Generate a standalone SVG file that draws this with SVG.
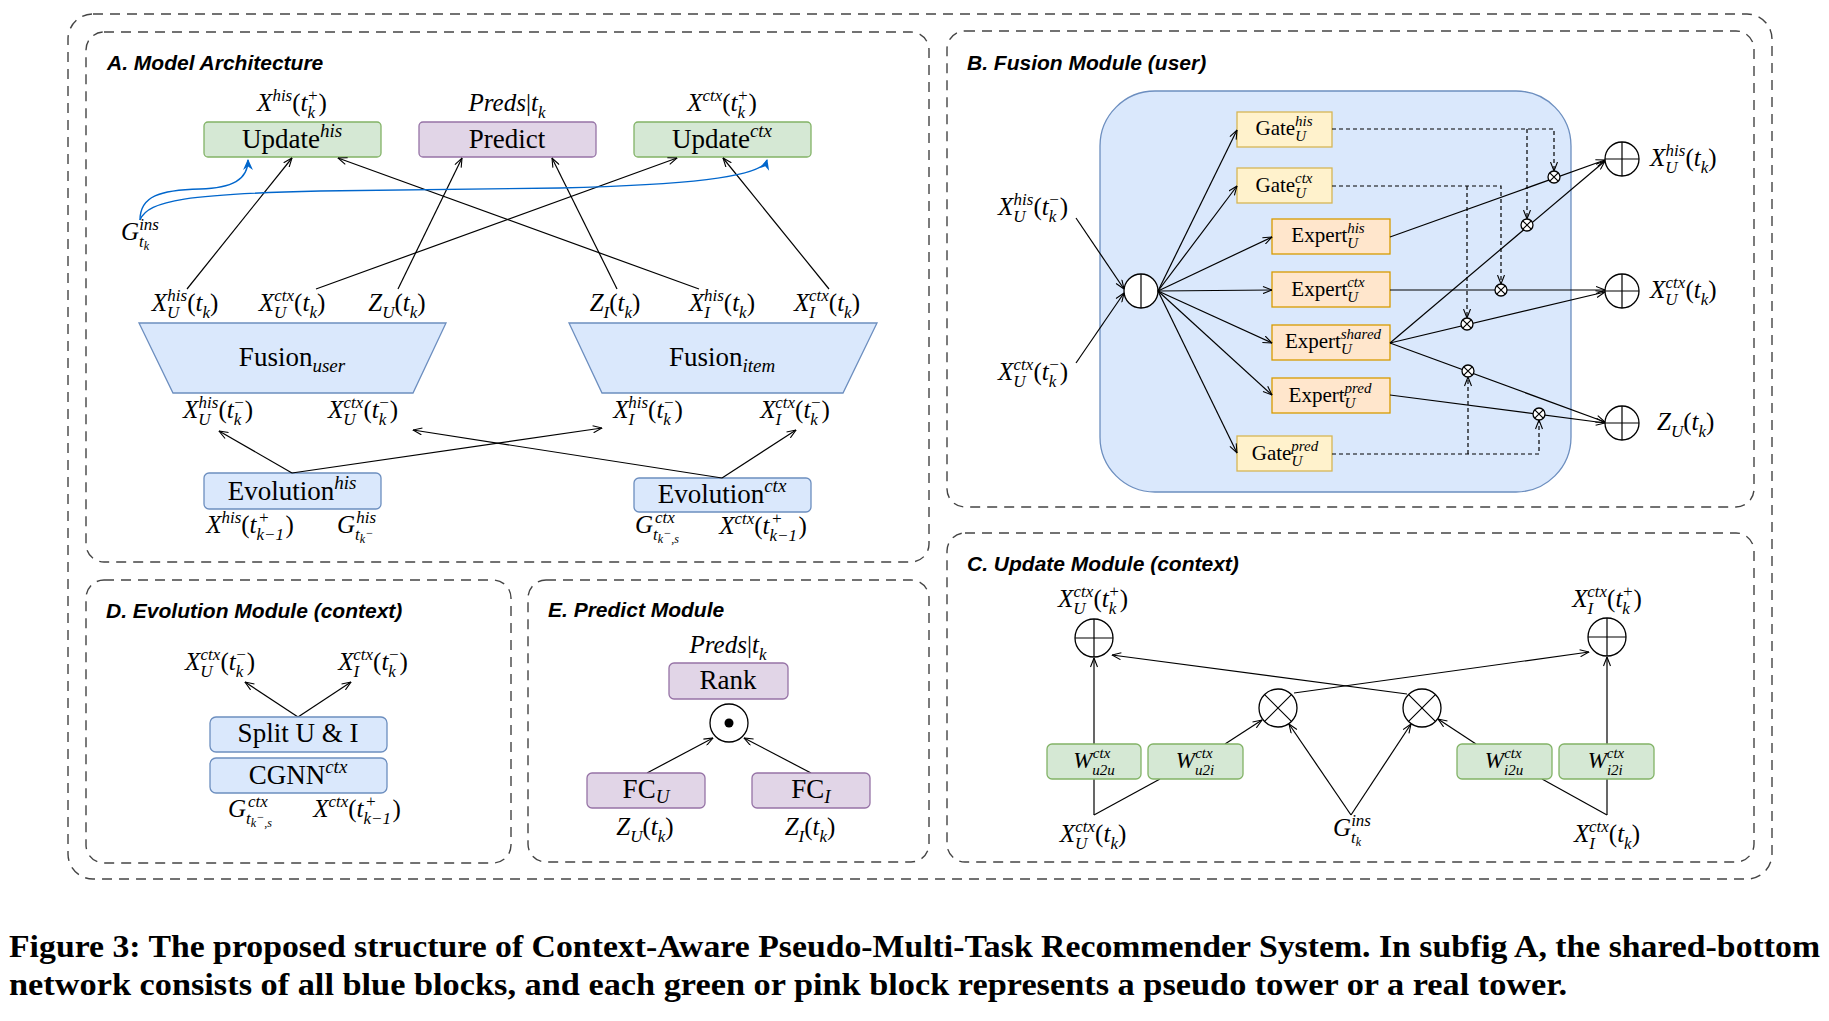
<svg xmlns="http://www.w3.org/2000/svg" width="1829" height="1021" viewBox="0 0 1829 1021">
<style>
.t{font-family:"Liberation Sans",Arial,sans-serif;font-weight:bold;font-style:italic;font-size:21px;fill:#000}
.m{font-family:"Liberation Serif","DejaVu Serif",serif;font-style:italic;font-size:17px;fill:#000}
.L{font-size:25px}
.mb{font-family:"Liberation Serif","DejaVu Serif",serif;font-style:italic;font-size:15px;fill:#000}
.L2{font-size:23px}
.b{font-family:"Liberation Serif","DejaVu Serif",serif;font-style:italic;font-size:19px;fill:#000}
.B{font-size:27px;font-style:normal}
.bs{font-family:"Liberation Serif","DejaVu Serif",serif;font-style:italic;font-size:15px;fill:#000}
.BS{font-size:21px;font-style:normal}
.ss{font-size:12px}
.n{font-style:normal}
.bl{fill:#dae8fc;stroke:#6c8ebf;stroke-width:1.3}
.gr{fill:#d5e8d4;stroke:#82b366;stroke-width:1.3}
.pu{fill:#e1d5e7;stroke:#9673a6;stroke-width:1.3}
.ga{fill:#fff2cc;stroke:#d6b656;stroke-width:1.3}
.ex{fill:#ffe6cc;stroke:#d79b00;stroke-width:1.3}
.pan{fill:none;stroke:#444;stroke-width:1.4;stroke-dasharray:10 7}
.ln{fill:none;stroke:#000;stroke-width:1.2}
.ar{marker-end:url(#ah)}
.dl{stroke-dasharray:4 3}
.bc{fill:none;stroke:#0066cc;stroke-width:1.4;marker-end:url(#ahb)}
.op{fill:#fff;stroke:#000;stroke-width:1.3}
.cap{font-family:"Liberation Serif","DejaVu Serif",serif;font-weight:bold;font-size:32px;fill:#000}
</style>
<defs>
<marker id="ah" viewBox="0 0 10 8" refX="9.5" refY="4" markerWidth="10" markerHeight="8" orient="auto" markerUnits="userSpaceOnUse"><path d="M0.5,0.5 L9.5,4 L0.5,7.5" fill="none" stroke="#000" stroke-width="1.1"/></marker>
<marker id="ahb" viewBox="0 0 10 10" refX="9" refY="5" markerWidth="11" markerHeight="11" orient="auto" markerUnits="userSpaceOnUse"><path d="M0,0.5 L10,5 L0,9.5 L3,5 Z" fill="#0066cc"/></marker>
</defs>
<rect width="1829" height="1021" fill="#fff"/>

<g id="panels">
<rect class="pan" x="68" y="14" width="1704" height="865" rx="25"/>
<rect class="pan" x="86" y="32" width="843" height="530" rx="18"/>
<rect class="pan" x="947" y="31" width="807" height="476" rx="18"/>
<rect class="pan" x="947" y="533" width="807" height="329" rx="18"/>
<rect class="pan" x="86" y="580" width="425" height="283" rx="18"/>
<rect class="pan" x="528" y="580" width="401" height="282" rx="18"/>
<text class="t" x="107" y="70">A. Model Architecture</text>
<text class="t" x="967" y="70">B. Fusion Module (user)</text>
<text class="t" x="967" y="571">C. Update Module (context)</text>
<text class="t" x="106" y="618">D. Evolution Module (context)</text>
<text class="t" x="548" y="617">E. Predict Module</text>
</g>

<!-- Panel A nodes -->
<g id="update-his"><rect class="gr" x="204" y="122" width="177" height="35" rx="4"/><text class="b" x="292" y="148" text-anchor="middle"><tspan class="B">Update</tspan><tspan dy="-11">his</tspan></text></g>
<g id="predict"><rect class="pu" x="419" y="122" width="177" height="35" rx="4"/><text class="b" x="507" y="148" text-anchor="middle"><tspan class="B">Predict</tspan></text></g>
<g id="update-ctx"><rect class="gr" x="634" y="122" width="177" height="35" rx="4"/><text class="b" x="722" y="148" text-anchor="middle"><tspan class="B">Update</tspan><tspan dy="-11">ctx</tspan></text></g>
<g id="lbl-xhis-plus"><text class="m" x="292" y="111" text-anchor="middle"><tspan class="L">X</tspan><tspan dy="-10">his</tspan><tspan class="L n" dy="10">(</tspan><tspan class="L">t</tspan><tspan dy="7">k</tspan><tspan dx="-8" dy="-17">+</tspan><tspan class="L n" dy="10">)</tspan></text></g>
<g id="lbl-preds"><text class="m" x="507" y="111" text-anchor="middle"><tspan class="L">Preds</tspan><tspan class="L n">|</tspan><tspan class="L">t</tspan><tspan dy="7">k</tspan></text></g>
<g id="lbl-xctx-plus"><text class="m" x="722" y="111" text-anchor="middle"><tspan class="L">X</tspan><tspan dy="-10">ctx</tspan><tspan class="L n" dy="10">(</tspan><tspan class="L">t</tspan><tspan dy="7">k</tspan><tspan dx="-8" dy="-17">+</tspan><tspan class="L n" dy="10">)</tspan></text></g>
<g id="lbl-gins-a"><text class="m" x="121" y="240"><tspan class="L">G</tspan><tspan dy="7">t</tspan><tspan class="ss" dy="3">k</tspan><tspan dx="-10" dy="-20">ins</tspan></text></g>

<g id="row-labels">
<text class="m" x="185" y="311" text-anchor="middle"><tspan class="L">X</tspan><tspan dy="7">U</tspan><tspan dx="-12" dy="-17">his</tspan><tspan class="L n" dy="10">(</tspan><tspan class="L">t</tspan><tspan dy="7">k</tspan><tspan class="L n" dy="-7">)</tspan></text>
<text class="m" x="292" y="311" text-anchor="middle"><tspan class="L">X</tspan><tspan dy="7">U</tspan><tspan dx="-12" dy="-17">ctx</tspan><tspan class="L n" dy="10">(</tspan><tspan class="L">t</tspan><tspan dy="7">k</tspan><tspan class="L n" dy="-7">)</tspan></text>
<text class="m" x="397" y="311" text-anchor="middle"><tspan class="L">Z</tspan><tspan dy="7">U</tspan><tspan class="L n" dy="-7">(</tspan><tspan class="L">t</tspan><tspan dy="7">k</tspan><tspan class="L n" dy="-7">)</tspan></text>
<text class="m" x="615" y="311" text-anchor="middle"><tspan class="L">Z</tspan><tspan dy="7">I</tspan><tspan class="L n" dy="-7">(</tspan><tspan class="L">t</tspan><tspan dy="7">k</tspan><tspan class="L n" dy="-7">)</tspan></text>
<text class="m" x="722" y="311" text-anchor="middle"><tspan class="L">X</tspan><tspan dy="7">I</tspan><tspan dx="-6" dy="-17">his</tspan><tspan class="L n" dy="10">(</tspan><tspan class="L">t</tspan><tspan dy="7">k</tspan><tspan class="L n" dy="-7">)</tspan></text>
<text class="m" x="827" y="311" text-anchor="middle"><tspan class="L">X</tspan><tspan dy="7">I</tspan><tspan dx="-6" dy="-17">ctx</tspan><tspan class="L n" dy="10">(</tspan><tspan class="L">t</tspan><tspan dy="7">k</tspan><tspan class="L n" dy="-7">)</tspan></text>
</g>

<g id="fusion-user"><path class="bl" d="M139,323 L446,323 L413,393 L173,393 Z"/><text class="b" x="292" y="366" text-anchor="middle"><tspan class="B">Fusion</tspan><tspan dy="6">user</tspan></text></g>
<g id="fusion-item"><path class="bl" d="M569,323 L877,323 L843,393 L602,393 Z"/><text class="b" x="722" y="366" text-anchor="middle"><tspan class="B">Fusion</tspan><tspan dy="6">item</tspan></text></g>

<g id="below-labels">
<text class="m" x="218" y="418" text-anchor="middle"><tspan class="L">X</tspan><tspan dy="7">U</tspan><tspan dx="-12" dy="-17">his</tspan><tspan class="L n" dy="10">(</tspan><tspan class="L">t</tspan><tspan dy="7">k</tspan><tspan dx="-8" dy="-17">−</tspan><tspan class="L n" dy="10">)</tspan></text>
<text class="m" x="363" y="418" text-anchor="middle"><tspan class="L">X</tspan><tspan dy="7">U</tspan><tspan dx="-12" dy="-17">ctx</tspan><tspan class="L n" dy="10">(</tspan><tspan class="L">t</tspan><tspan dy="7">k</tspan><tspan dx="-8" dy="-17">−</tspan><tspan class="L n" dy="10">)</tspan></text>
<text class="m" x="648" y="418" text-anchor="middle"><tspan class="L">X</tspan><tspan dy="7">I</tspan><tspan dx="-6" dy="-17">his</tspan><tspan class="L n" dy="10">(</tspan><tspan class="L">t</tspan><tspan dy="7">k</tspan><tspan dx="-8" dy="-17">−</tspan><tspan class="L n" dy="10">)</tspan></text>
<text class="m" x="795" y="418" text-anchor="middle"><tspan class="L">X</tspan><tspan dy="7">I</tspan><tspan dx="-6" dy="-17">ctx</tspan><tspan class="L n" dy="10">(</tspan><tspan class="L">t</tspan><tspan dy="7">k</tspan><tspan dx="-8" dy="-17">−</tspan><tspan class="L n" dy="10">)</tspan></text>
</g>

<g id="evolution-his"><rect class="bl" x="204" y="473" width="177" height="36" rx="5"/><text class="b" x="292" y="500" text-anchor="middle"><tspan class="B">Evolution</tspan><tspan dy="-11">his</tspan></text></g>
<g id="evolution-ctx"><rect class="bl" x="634" y="478" width="177" height="34" rx="5"/><text class="b" x="722" y="503" text-anchor="middle"><tspan class="B">Evolution</tspan><tspan dy="-11">ctx</tspan></text></g>
<g id="evo-labels">
<text class="m" x="250" y="533" text-anchor="middle"><tspan class="L">X</tspan><tspan dy="-10">his</tspan><tspan class="L n" dy="10">(</tspan><tspan class="L">t</tspan><tspan dy="7">k−1</tspan><tspan dx="-26" dy="-17">+</tspan><tspan class="L n" dx="16" dy="10">)</tspan></text>
<text class="m" x="337" y="533"><tspan class="L">G</tspan><tspan dy="7">t</tspan><tspan class="ss" dy="3">k</tspan><tspan class="ss" dy="-6">−</tspan><tspan dx="-17" dy="-14">his</tspan></text>
<text class="m" x="635" y="533"><tspan class="L">G</tspan><tspan dy="7">t</tspan><tspan class="ss" dy="3">k</tspan><tspan class="ss" dy="-6">−</tspan><tspan class="ss" dy="6">,s</tspan><tspan dx="-24" dy="-20">ctx</tspan></text>
<text class="m" x="763" y="534" text-anchor="middle"><tspan class="L">X</tspan><tspan dy="-10">ctx</tspan><tspan class="L n" dy="10">(</tspan><tspan class="L">t</tspan><tspan dy="7">k−1</tspan><tspan dx="-26" dy="-17">+</tspan><tspan class="L n" dx="16" dy="10">)</tspan></text>
</g>

<!-- Panel B nodes -->
<g id="fusion-user-body"><rect class="bl" x="1100" y="91" width="471" height="401" rx="55"/></g>
<g id="b-in-labels">
<text class="m" x="1033" y="215" text-anchor="middle"><tspan class="L">X</tspan><tspan dy="7">U</tspan><tspan dx="-12" dy="-17">his</tspan><tspan class="L n" dy="10">(</tspan><tspan class="L">t</tspan><tspan dy="7">k</tspan><tspan dx="-8" dy="-17">−</tspan><tspan class="L n" dy="10">)</tspan></text>
<text class="m" x="1033" y="380" text-anchor="middle"><tspan class="L">X</tspan><tspan dy="7">U</tspan><tspan dx="-12" dy="-17">ctx</tspan><tspan class="L n" dy="10">(</tspan><tspan class="L">t</tspan><tspan dy="7">k</tspan><tspan dx="-8" dy="-17">−</tspan><tspan class="L n" dy="10">)</tspan></text>
</g>
<g id="gate-his"><rect class="ga" x="1237" y="112" width="95" height="35"/><text class="bs" x="1284" y="135" text-anchor="middle"><tspan class="BS">Gate</tspan><tspan dy="6">U</tspan><tspan dx="-11" dy="-15">his</tspan></text></g>
<g id="gate-ctx"><rect class="ga" x="1237" y="168" width="95" height="35"/><text class="bs" x="1284" y="192" text-anchor="middle"><tspan class="BS">Gate</tspan><tspan dy="6">U</tspan><tspan dx="-11" dy="-15">ctx</tspan></text></g>
<g id="expert-his"><rect class="ex" x="1272" y="219" width="118" height="35"/><text class="bs" x="1328" y="242" text-anchor="middle"><tspan class="BS">Expert</tspan><tspan dy="6">U</tspan><tspan dx="-11" dy="-15">his</tspan></text></g>
<g id="expert-ctx"><rect class="ex" x="1272" y="272" width="118" height="35"/><text class="bs" x="1328" y="296" text-anchor="middle"><tspan class="BS">Expert</tspan><tspan dy="6">U</tspan><tspan dx="-11" dy="-15">ctx</tspan></text></g>
<g id="expert-shared"><rect class="ex" x="1272" y="325" width="118" height="35"/><text class="bs" x="1333" y="348" text-anchor="middle"><tspan class="BS">Expert</tspan><tspan dy="6">U</tspan><tspan dx="-11" dy="-15">shared</tspan></text></g>
<g id="expert-pred"><rect class="ex" x="1272" y="378" width="118" height="35"/><text class="bs" x="1330" y="402" text-anchor="middle"><tspan class="BS">Expert</tspan><tspan dy="6">U</tspan><tspan dx="-11" dy="-15">pred</tspan></text></g>
<g id="gate-pred"><rect class="ga" x="1237" y="436" width="95" height="35"/><text class="bs" x="1285" y="460" text-anchor="middle"><tspan class="BS">Gate</tspan><tspan dy="6">U</tspan><tspan dx="-11" dy="-15">pred</tspan></text></g>

<g id="b-concat"><circle class="op" cx="1141" cy="291" r="17"/><line class="ln" x1="1141" y1="274" x2="1141" y2="308"/></g>

<!-- Connectors -->
<g id="connectors">
<line class="ln ar" x1="187" y1="289" x2="292" y2="158"/>
<line class="ln ar" x1="316" y1="289" x2="677" y2="158"/>
<line class="ln ar" x1="398" y1="289" x2="462" y2="158"/>
<line class="ln ar" x1="617" y1="289" x2="552" y2="158"/>
<line class="ln ar" x1="699" y1="289" x2="338" y2="158"/>
<line class="ln ar" x1="829" y1="289" x2="723" y2="158"/>
<line class="ln ar" x1="292" y1="473" x2="219" y2="431"/>
<line class="ln ar" x1="292" y1="473" x2="602" y2="428"/>
<line class="ln ar" x1="722" y1="478" x2="796" y2="430"/>
<line class="ln ar" x1="722" y1="478" x2="413" y2="430"/>
<path class="bc" d="M140,220 C140,196 160,190 200,189 C232,188 248,180 248,160"/>
<path class="bc" d="M140,220 C148,200 190,194 320,191 L560,188 C680,185 762,178 767,160"/>
<line class="ln ar" x1="1076" y1="218" x2="1124" y2="289"/>
<line class="ln ar" x1="1076" y1="363" x2="1124" y2="293"/>
<line class="ln ar" x1="1158" y1="291" x2="1237" y2="130"/>
<line class="ln ar" x1="1158" y1="291" x2="1237" y2="186"/>
<line class="ln ar" x1="1158" y1="291" x2="1272" y2="237"/>
<line class="ln ar" x1="1158" y1="291" x2="1272" y2="290"/>
<line class="ln ar" x1="1158" y1="291" x2="1272" y2="343"/>
<line class="ln ar" x1="1158" y1="291" x2="1272" y2="395"/>
<line class="ln ar" x1="1158" y1="291" x2="1237" y2="453"/>
<line class="ln ar" x1="1390" y1="237" x2="1605" y2="160"/>
<line class="ln ar" x1="1390" y1="343" x2="1605" y2="161"/>
<line class="ln ar" x1="1390" y1="290" x2="1605" y2="290"/>
<line class="ln ar" x1="1390" y1="343" x2="1605" y2="292"/>
<line class="ln ar" x1="1390" y1="343" x2="1605" y2="422"/>
<line class="ln ar" x1="1390" y1="395" x2="1605" y2="423"/>
<path class="ln dl ar" d="M1332,129 H1554 V171"/>
<path class="ln dl ar" d="M1527,129 V219"/>
<path class="ln dl ar" d="M1332,186 H1501 V284"/>
<path class="ln dl ar" d="M1467,186 V318"/>
<path class="ln dl ar" d="M1332,454 H1539 V420"/>
<path class="ln dl ar" d="M1468,454 V377"/>
<line class="ln" x1="1094" y1="815" x2="1094" y2="779"/>
<line class="ln ar" x1="1094" y1="744" x2="1094" y2="658"/>
<line class="ln" x1="1094" y1="815" x2="1160" y2="779"/>
<line class="ln ar" x1="1225" y1="744" x2="1262" y2="720"/>
<line class="ln ar" x1="1351" y1="815" x2="1289" y2="724"/>
<line class="ln ar" x1="1351" y1="815" x2="1411" y2="724"/>
<line class="ln ar" x1="1294" y1="693" x2="1589" y2="652"/>
<line class="ln ar" x1="1407" y1="694" x2="1112" y2="655"/>
<line class="ln" x1="1607" y1="815" x2="1607" y2="779"/>
<line class="ln ar" x1="1607" y1="744" x2="1607" y2="657"/>
<line class="ln" x1="1607" y1="815" x2="1542" y2="779"/>
<line class="ln ar" x1="1476" y1="744" x2="1438" y2="719"/>
<line class="ln ar" x1="298" y1="717" x2="245" y2="682"/>
<line class="ln ar" x1="298" y1="717" x2="351" y2="682"/>
<line class="ln ar" x1="647" y1="773" x2="713" y2="738"/>
<line class="ln ar" x1="811" y1="773" x2="744" y2="738"/>
</g>

<g id="b-mult">
<g id="m1"><circle class="op" cx="1554" cy="177" r="6"/><path class="ln" d="M1549.8,172.8 L1558.2,181.2 M1558.2,172.8 L1549.8,181.2"/></g>
<g id="m2"><circle class="op" cx="1527" cy="225" r="6"/><path class="ln" d="M1522.8,220.8 L1531.2,229.2 M1531.2,220.8 L1522.8,229.2"/></g>
<g id="m3"><circle class="op" cx="1501" cy="290" r="6"/><path class="ln" d="M1496.8,285.8 L1505.2,294.2 M1505.2,285.8 L1496.8,294.2"/></g>
<g id="m4"><circle class="op" cx="1467" cy="324" r="6"/><path class="ln" d="M1462.8,319.8 L1471.2,328.2 M1471.2,319.8 L1462.8,328.2"/></g>
<g id="m5"><circle class="op" cx="1468" cy="371" r="6"/><path class="ln" d="M1463.8,366.8 L1472.2,375.2 M1472.2,366.8 L1463.8,375.2"/></g>
<g id="m6"><circle class="op" cx="1539" cy="414" r="6"/><path class="ln" d="M1534.8,409.8 L1543.2,418.2 M1543.2,409.8 L1534.8,418.2"/></g>
</g>
<g id="b-plus-his"><circle class="op" cx="1622" cy="159" r="17"/><path class="ln" d="M1605,159 H1639 M1622,142 V176"/><text class="m" x="1650" y="166"><tspan class="L">X</tspan><tspan dy="7">U</tspan><tspan dx="-12" dy="-17">his</tspan><tspan class="L n" dy="10">(</tspan><tspan class="L">t</tspan><tspan dy="7">k</tspan><tspan class="L n" dy="-7">)</tspan></text></g>
<g id="b-plus-ctx"><circle class="op" cx="1622" cy="291" r="17"/><path class="ln" d="M1605,291 H1639 M1622,274 V308"/><text class="m" x="1650" y="298"><tspan class="L">X</tspan><tspan dy="7">U</tspan><tspan dx="-12" dy="-17">ctx</tspan><tspan class="L n" dy="10">(</tspan><tspan class="L">t</tspan><tspan dy="7">k</tspan><tspan class="L n" dy="-7">)</tspan></text></g>
<g id="b-plus-z"><circle class="op" cx="1622" cy="423" r="17"/><path class="ln" d="M1605,423 H1639 M1622,406 V440"/><text class="m" x="1657" y="430"><tspan class="L">Z</tspan><tspan dy="7">U</tspan><tspan class="L n" dy="-7">(</tspan><tspan class="L">t</tspan><tspan dy="7">k</tspan><tspan class="L n" dy="-7">)</tspan></text></g>

<!-- Panel C nodes -->
<g id="c-plus-u"><circle class="op" cx="1094" cy="638" r="19"/><path class="ln" d="M1075,638 H1113 M1094,619 V657"/><text class="m" x="1093" y="607" text-anchor="middle"><tspan class="L">X</tspan><tspan dy="7">U</tspan><tspan dx="-12" dy="-17">ctx</tspan><tspan class="L n" dy="10">(</tspan><tspan class="L">t</tspan><tspan dy="7">k</tspan><tspan dx="-8" dy="-17">+</tspan><tspan class="L n" dy="10">)</tspan></text></g>
<g id="c-plus-i"><circle class="op" cx="1607" cy="637" r="19"/><path class="ln" d="M1588,637 H1626 M1607,618 V656"/><text class="m" x="1607" y="607" text-anchor="middle"><tspan class="L">X</tspan><tspan dy="7">I</tspan><tspan dx="-6" dy="-17">ctx</tspan><tspan class="L n" dy="10">(</tspan><tspan class="L">t</tspan><tspan dy="7">k</tspan><tspan dx="-8" dy="-17">+</tspan><tspan class="L n" dy="10">)</tspan></text></g>
<g id="c-mult-1"><circle class="op" cx="1278" cy="708" r="19"/><path class="ln" d="M1264.6,694.6 L1291.4,721.4 M1291.4,694.6 L1264.6,721.4"/></g>
<g id="c-mult-2"><circle class="op" cx="1422" cy="708" r="19"/><path class="ln" d="M1408.6,694.6 L1435.4,721.4 M1435.4,694.6 L1408.6,721.4"/></g>
<g id="w-u2u"><rect class="gr" x="1047" y="744" width="94" height="35" rx="5"/><text class="mb" x="1094" y="768" text-anchor="middle"><tspan class="L2">W</tspan><tspan dy="7">u2u</tspan><tspan dx="-22" dy="-17">ctx</tspan></text></g>
<g id="w-u2i"><rect class="gr" x="1148" y="744" width="95" height="35" rx="5"/><text class="mb" x="1195" y="768" text-anchor="middle"><tspan class="L2">W</tspan><tspan dy="7">u2i</tspan><tspan dx="-19" dy="-17">ctx</tspan></text></g>
<g id="w-i2u"><rect class="gr" x="1457" y="744" width="95" height="35" rx="5"/><text class="mb" x="1504" y="768" text-anchor="middle"><tspan class="L2">W</tspan><tspan dy="7">i2u</tspan><tspan dx="-19" dy="-17">ctx</tspan></text></g>
<g id="w-i2i"><rect class="gr" x="1559" y="744" width="95" height="35" rx="5"/><text class="mb" x="1606" y="768" text-anchor="middle"><tspan class="L2">W</tspan><tspan dy="7">i2i</tspan><tspan dx="-16" dy="-17">ctx</tspan></text></g>
<g id="c-in-u"><text class="m" x="1093" y="842" text-anchor="middle"><tspan class="L">X</tspan><tspan dy="7">U</tspan><tspan dx="-12" dy="-17">ctx</tspan><tspan class="L n" dy="10">(</tspan><tspan class="L">t</tspan><tspan dy="7">k</tspan><tspan class="L n" dy="-7">)</tspan></text></g>
<g id="c-in-i"><text class="m" x="1607" y="842" text-anchor="middle"><tspan class="L">X</tspan><tspan dy="7">I</tspan><tspan dx="-6" dy="-17">ctx</tspan><tspan class="L n" dy="10">(</tspan><tspan class="L">t</tspan><tspan dy="7">k</tspan><tspan class="L n" dy="-7">)</tspan></text></g>
<g id="c-gins"><text class="m" x="1333" y="836"><tspan class="L">G</tspan><tspan dy="7">t</tspan><tspan class="ss" dy="3">k</tspan><tspan dx="-10" dy="-20">ins</tspan></text></g>

<!-- Panel D nodes -->
<g id="d-out-labels">
<text class="m" x="220" y="670" text-anchor="middle"><tspan class="L">X</tspan><tspan dy="7">U</tspan><tspan dx="-12" dy="-17">ctx</tspan><tspan class="L n" dy="10">(</tspan><tspan class="L">t</tspan><tspan dy="7">k</tspan><tspan dx="-8" dy="-17">−</tspan><tspan class="L n" dy="10">)</tspan></text>
<text class="m" x="373" y="670" text-anchor="middle"><tspan class="L">X</tspan><tspan dy="7">I</tspan><tspan dx="-6" dy="-17">ctx</tspan><tspan class="L n" dy="10">(</tspan><tspan class="L">t</tspan><tspan dy="7">k</tspan><tspan dx="-8" dy="-17">−</tspan><tspan class="L n" dy="10">)</tspan></text>
</g>
<g id="split"><rect class="bl" x="210" y="717" width="177" height="35" rx="6"/><text class="b" x="298" y="742" text-anchor="middle"><tspan class="B">Split U &amp; I</tspan></text></g>
<g id="cgnn"><rect class="bl" x="210" y="758" width="177" height="35" rx="6"/><text class="b" x="298" y="784" text-anchor="middle"><tspan class="B">CGNN</tspan><tspan dy="-11">ctx</tspan></text></g>
<g id="d-in-labels">
<text class="m" x="228" y="817"><tspan class="L">G</tspan><tspan dy="7">t</tspan><tspan class="ss" dy="3">k</tspan><tspan class="ss" dy="-6">−</tspan><tspan class="ss" dy="6">,s</tspan><tspan dx="-24" dy="-20">ctx</tspan></text>
<text class="m" x="357" y="817" text-anchor="middle"><tspan class="L">X</tspan><tspan dy="-10">ctx</tspan><tspan class="L n" dy="10">(</tspan><tspan class="L">t</tspan><tspan dy="7">k−1</tspan><tspan dx="-26" dy="-17">+</tspan><tspan class="L n" dx="16" dy="10">)</tspan></text>
</g>

<!-- Panel E nodes -->
<g id="e-preds"><text class="m" x="728" y="653" text-anchor="middle"><tspan class="L">Preds</tspan><tspan class="L n">|</tspan><tspan class="L">t</tspan><tspan dy="7">k</tspan></text></g>
<g id="rank"><rect class="pu" x="669" y="663" width="119" height="36" rx="5"/><text class="b" x="728" y="689" text-anchor="middle"><tspan class="B">Rank</tspan></text></g>
<g id="dot"><circle class="op" cx="729" cy="723" r="19"/><circle cx="729" cy="723" r="4.5" fill="#000"/></g>
<g id="fc-u"><rect class="pu" x="587" y="773" width="118" height="35" rx="5"/><text class="b" x="646" y="798" text-anchor="middle"><tspan class="B">FC</tspan><tspan dy="5">U</tspan></text></g>
<g id="fc-i"><rect class="pu" x="752" y="773" width="118" height="35" rx="5"/><text class="b" x="811" y="798" text-anchor="middle"><tspan class="B">FC</tspan><tspan dy="5">I</tspan></text></g>
<g id="e-in-labels">
<text class="m" x="645" y="835" text-anchor="middle"><tspan class="L">Z</tspan><tspan dy="7">U</tspan><tspan class="L n" dy="-7">(</tspan><tspan class="L">t</tspan><tspan dy="7">k</tspan><tspan class="L n" dy="-7">)</tspan></text>
<text class="m" x="810" y="835" text-anchor="middle"><tspan class="L">Z</tspan><tspan dy="7">I</tspan><tspan class="L n" dy="-7">(</tspan><tspan class="L">t</tspan><tspan dy="7">k</tspan><tspan class="L n" dy="-7">)</tspan></text>
</g>

<g id="caption">
<text class="cap" x="9" y="957" textLength="1811" lengthAdjust="spacingAndGlyphs">Figure 3: The proposed structure of Context-Aware Pseudo-Multi-Task Recommender System. In subfig A, the shared-bottom</text>
<text class="cap" x="9" y="995" textLength="1558" lengthAdjust="spacingAndGlyphs">network consists of all blue blocks, and each green or pink block represents a pseudo tower or a real tower.</text>
</g>
</svg>
